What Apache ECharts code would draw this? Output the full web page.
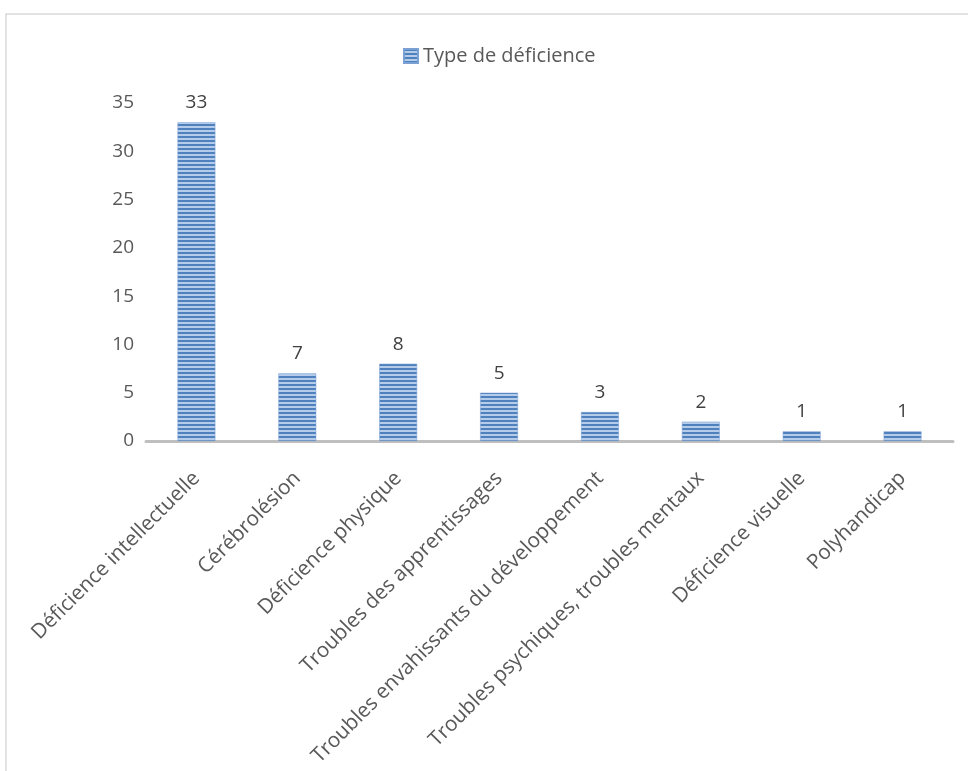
<!DOCTYPE html>
<html><head><meta charset="utf-8">
<script src="https://cdn.jsdelivr.net/npm/echarts@6/dist/echarts.min.js"></script>
<style>html,body{margin:0;padding:0;background:#fff;}#c{width:968px;height:771px;}</style>
</head><body><div id="c"></div>
<script>
const categories = ["Déficience intellectuelle","Cérébrolésion","Déficience physique","Troubles des apprentissages","Troubles envahissants du développement","Troubles psychiques, troubles mentaux","Déficience visuelle","Polyhandicap"];
const values = [33, 7, 8, 5, 3, 2, 1, 1];
const seriesName = "Type de déficience";

function makePattern(){
  const c = document.createElement('canvas');
  c.width = 4; c.height = 4;
  const g = c.getContext('2d');
  g.fillStyle = '#b4cbea'; g.fillRect(0,0,4,4);
  g.fillStyle = '#4f81bd'; g.fillRect(0,0,4,2);
  return c;
}
const pat = {image: makePattern(), repeat: 'repeat'};
const font = "'Open Sans', sans-serif";
const chart = echarts.init(document.getElementById('c'));
chart.setOption({
  backgroundColor: '#fff',
  animation: false,
  graphic: [{type:'rect', shape:{x:6, y:14, width:1100, height:900}, style:{fill:'none', stroke:'#d9d9d9', lineWidth:1.5}, silent:true, z:-1}],
  legend: {left: 398, top: 41, itemWidth: 14, itemHeight: 14, itemGap: 8,
    textStyle:{fontSize: 20, color:'#595959', fontFamily: font},
    data:[{name: seriesName, icon:'rect'}]},
  grid: {left: 146, right: 15, top: 103, bottom: 330, containLabel: false},
  xAxis: {type:'category', data: categories,
    axisLine:{lineStyle:{color:'#bfbfbf', width:3}}, axisTick:{show:false},
    axisLabel:{rotate:45, fontSize:20.7, color:'#595959', fontFamily: font, margin:34, interval:0}},
  yAxis: {type:'value', min:0, max:35, interval:5,
    axisLine:{show:false}, axisTick:{show:false}, splitLine:{show:false},
    axisLabel:{fontSize:19, color:'#595959', fontFamily: font, margin:12}},
  series: [{name: seriesName, type:'bar', data: values, barWidth:'37.5%',
    itemStyle:{color: pat, borderColor:'#7aa0d4', borderWidth:0.5},
    label:{show:true, position:'top', distance:10, fontSize:19, color:'#404040', fontFamily: font}}]
});
</script></body></html>
